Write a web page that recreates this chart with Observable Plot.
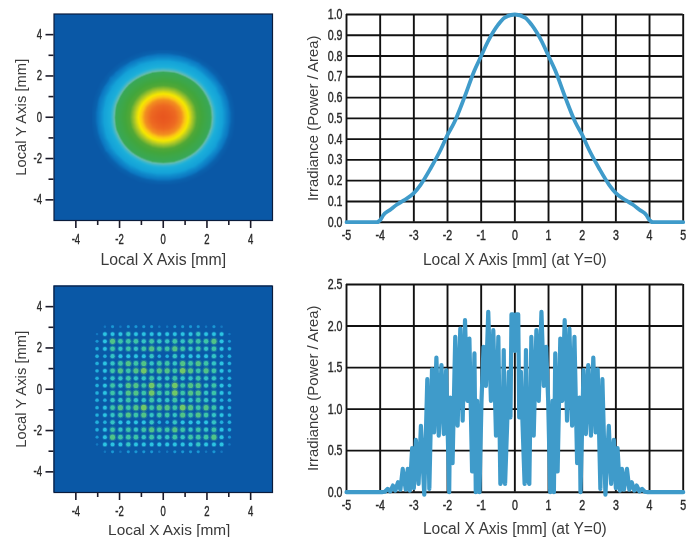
<!DOCTYPE html>
<html>
<head>
<meta charset="utf-8">
<script src="https://cdn.jsdelivr.net/npm/d3@7"></script>
<script src="https://cdn.jsdelivr.net/npm/@observablehq/plot@0.6"></script>
<style>
html,body{margin:0;padding:0;background:#fff;overflow:hidden}
#c{position:relative;width:688px;height:537px;overflow:hidden}
#c svg{position:absolute;overflow:visible;filter:blur(0.4px)}
</style>
</head>
<body>
<div id="c"></div>
<script>
// Top-right: irradiance profile, half from x=0 outwards (mirrored)
const profileX = [0,0.3,0.5,0.8,1,1.2,1.5,1.8,2,2.2,2.5,2.8,3,3.3,3.5,3.7,3.9,4,4.1,5];
const profileY = [1,0.985,0.95,0.87,0.8,0.73,0.6,0.48,0.42,0.35,0.26,0.18,0.14,0.105,0.085,0.06,0.035,0.01,0,0];

// Bottom-right: irradiance profile, half from x=0 outwards (mirrored)
const spikeX = [0,0.05,0.10,0.13,0.18,0.23,0.29,0.33,0.38,0.43,0.49,0.56,0.64,0.71,0.79,0.86,0.93,0.99,1.05,1.12,1.16,1.20,1.27,1.35,1.41,1.48,1.55,1.62,1.70,1.77,1.85,1.92,1.95,2.04,2.11,2.18,2.26,2.33,2.40,2.46,2.54,2.60,2.69,2.79,2.86,2.94,3.00,3.05,3.12,3.18,3.24,3.33,3.40,3.47,3.55,3.62,3.70,3.78,3.86,3.95,5];
const spikeY = [1.7,2.14,2.14,0.9,1.45,0.8,0.1,1.71,0.15,0.1,1.87,0.68,1.95,1.1,2.17,1.28,1.75,1.1,0,1.1,0,1.67,0.25,1.85,1.1,2.07,0.86,1.97,0.8,1.87,0.35,1.14,0,1.47,0.7,1.53,0.68,1.62,0.72,1.48,0.04,1.36,-0.03,0.8,0.1,0.63,0.05,0.53,0.02,0.28,0.03,0.28,0.03,0.12,0.02,0.08,0.01,0.04,0.005,0,0];

// Top-left: irradiance in % on a 0.25 mm lattice, one quadrant (row = |y|, column = |x|), mirrored
const beamQuadrant = [
 [100,98.5,95,88,80,71,60,50,42,33.5,26,19,14,11],
 [98.5,97,93.4,87,79,70,59,49,41,33,26,19,14,11],
 [95,93.4,89.5,83.5,76,67,57,47,40,32,25,18,13.5,10.5],
 [88,87,83.5,78,71,62,53,45,37,30,23,17,13,10],
 [80,79,76,71,64,56,48,41,34,27,21,15.5,12,9.5],
 [71,70,67,62,56,49,43.5,37,30,24,18,14,11,9],
 [60,59,57,53,48,43.5,38,32,26,20.5,16,12.5,10,8],
 [50,49,47,45,41,37,32,27,22,17,13.5,11,9,6],
 [42,41,40,37,34,30,26,22,17,14,12,9.5,7.5,5],
 [33.5,33,32,30,27,24,20.5,17,14,12,10,8,5,3],
 [26,26,25,23,21,18,16,13.5,12,10,8,6,3,2],
 [19,19,18,17,15.5,14,12.5,11,9.5,8,6,4,2,0],
 [14,14,13.5,13,12,11,10,9,7.5,5,3,2,0,0],
 [11,11,10.5,10,9.5,9,8,6,5,3,2,0,0,0]
];
const beamLevels = [0,10,12.5,14,20,28,31,33.5,36,50,58,68,75,80,85,92,100];
const beamColors = ["#0a58a6","#0a58a6","#0a62ae","#0c78c2","#14a2d8","#1cb0da","#3cb6cc","#66bcae","#38a858","#42a63c","#52a836","#b0c828","#f6e800","#fcc814","#f39020","#ee6c22","#e8561f"];

// Bottom-left: spot brightness 0–9 on the spot lattice, one quadrant from outer to centre, mirrored
const spotPitch = [3.03,2.67,2.32,1.96,1.60,1.25,0.89,0.53,0.18];
const spotRows = [
 "012122221",
 "144454444",
 "247666565",
 "346565676",
 "335444453",
 "345676756",
 "346767867",
 "335565565",
 "346577686"
];
const spotLevels = [0,1,2,3,4,6,7,8,9];
const spotColors = ["#0a58a6","#1478c0","#1a98d4","#22b0dc","#2cc4e2","#3cc4a8","#50c488","#70c868","#98d048"];

const xMajor = [-4,-2,0,2,4];
const xMinor = [-3,-1,1,3];
const xLineTicks = [-5,-4,-3,-2,-1,0,1,2,3,4,5];
const yTicksTop = [0,0.1,0.2,0.3,0.4,0.5,0.6,0.7,0.8,0.9,1];
const yTicksBottom = [0,0.5,1,1.5,2,2.5];
const xLabelMap = "Local X Axis [mm]";
const yLabelMap = "Local Y Axis [mm]";
const xLabelLine = "Local X Axis [mm] (at Y=0)";
const yLabelLine = "Irradiance (Power / Area)";

const sans = "'Liberation Sans',Arial,sans-serif";
const ink = "#2a2a2a";

function place(svg, left, top, xSize, ySize, squeeze, xShift) {
  svg.style.left = left + "px";
  svg.style.top = top + "px";
  document.getElementById("c").appendChild(svg);
  const s = d3.select(svg);
  s.selectAll('[aria-label="x-axis label"] text').attr("font-size", xSize).attr("fill", "#3a3a3a").attr("dx", xShift);
  s.selectAll('[aria-label="y-axis label"] text').attr("font-size", ySize).attr("fill", "#3a3a3a");
  s.selectAll('[aria-label="x-axis tick label"] text,[aria-label="y-axis tick label"] text').each(function () {
    const t = d3.select(this).attr("font-size", 14).attr("fill", ink).attr("stroke", ink).attr("stroke-width", 0.4);
    const w = this.getComputedTextLength();
    if (w > 0) t.attr("textLength", w * squeeze).attr("lengthAdjust", "spacingAndGlyphs");
  });
}

function mapAxes(extra, labelOffset) {
  return [
    ...extra,
    Plot.frame({stroke: "#0a1c3c", strokeWidth: 1.2}),
    Plot.axisX(xMajor, {tickSize: 8, tickPadding: 6, strokeWidth: 1.6, stroke: "#1a1a2a", tickFormat: String, label: xLabelMap, labelAnchor: "center", labelArrow: "none", labelOffset, fill: ink}),
    Plot.axisX(xMinor, {tickSize: 5, strokeWidth: 1.6, stroke: "#1a1a2a", tickFormat: () => "", label: null}),
    Plot.axisY(xMajor, {tickSize: 8, tickPadding: 4, strokeWidth: 1.6, stroke: "#1a1a2a", tickFormat: String, label: yLabelMap, labelAnchor: "center", labelArrow: "none", labelOffset: 39, fill: ink}),
    Plot.axisY(xMinor, {tickSize: 5, strokeWidth: 1.6, stroke: "#1a1a2a", tickFormat: () => "", label: null})
  ];
}

function mapPlot(height, marginTop, levels, colors, labelOffset, marks) {
  return Plot.plot({
    width: 300, height, marginLeft: 53.5, marginRight: 28, marginTop, marginBottom: height - marginTop - 206.5,
    style: {fontFamily: sans, background: "transparent"},
    x: {domain: [-5, 5]}, y: {domain: [-5, 5]},
    color: {type: "linear", domain: levels, range: colors},
    r: {type: "linear", domain: [0, 9], range: [1, 3]},
    marks: mapAxes(marks, labelOffset)
  });
}

function linePlot(yDomain, yTicks, fmt, pts, sw, join, curve, labelOffset) {
  return Plot.plot({
    width: 388, height: 265, marginLeft: 46, marginRight: 5.3, marginTop: 14, marginBottom: 265 - 14 - 207.7,
    style: {fontFamily: sans, background: "transparent"},
    x: {domain: [-5, 5]}, y: {domain: yDomain},
    marks: [
      Plot.ruleX(xLineTicks, {stroke: "#111", strokeWidth: 1.9}),
      Plot.ruleY(yTicks, {stroke: "#111", strokeWidth: 1.9}),
      Plot.lineY(pts, {x: "x", y: "y", stroke: "#3f9bca", strokeWidth: sw, strokeLinejoin: join, curve}),
      Plot.axisX(xLineTicks, {tickSize: 0, tickPadding: 8, tickFormat: String, label: xLabelLine, labelAnchor: "center", labelArrow: "none", labelOffset, fill: ink}),
      Plot.axisY(yTicks, {tickSize: 0, tickPadding: 4, tickFormat: fmt, label: yLabelLine, labelAnchor: "center", labelArrow: "none", labelOffset: 39, fill: ink})
    ]
  });
}

function mirror(xs, ys) {
  const right = xs.map((x, i) => ({x, y: ys[i]}));
  const left = right.slice(1).reverse().map(d => ({x: -d.x, y: d.y}));
  return left.concat(right);
}

// beam cells
const n = beamQuadrant.length - 1;
const beamCells = [];
for (let j = -20; j <= 20; j++) for (let i = -20; i <= 20; i++) {
  const a = Math.abs(i), b = Math.abs(j);
  beamCells.push({x: i / 4, y: j / 4, v: a <= n && b <= n ? beamQuadrant[b][a] : 0});
}
// spot cells
const spots = [];
const signed = spotPitch.map(d => -d).concat(spotPitch.slice().reverse());
signed.forEach((y, r) => signed.forEach((x, c) => {
  const rr = r < 9 ? r : 17 - r, cc = c < 9 ? c : 17 - c;
  const v = +spotRows[rr][cc];
  if (v > 0) spots.push({x, y, v});
}));

place(mapPlot(265, 13.5, beamLevels, beamColors, 44, [
  Plot.raster(beamCells, {x: "x", y: "y", fill: "v", interpolate: "barycentric", pixelSize: 1, x1: -5, x2: 5, y1: -5, y2: 5, imageRendering: "auto"})
]), 0, 0, 15.8, 14.8, 0.68, 0);

place(mapPlot(267, 15.5, spotLevels, spotColors, 42, [
  Plot.rect([{}], {x1: () => -5, x2: () => 5, y1: () => -5, y2: () => 5, fill: () => 0}),
  Plot.dot(spots, {x: "x", y: "y", r: d => d.v * 1.8, fill: "v", fillOpacity: 0.3}),
  Plot.dot(spots, {x: "x", y: "y", r: "v", fill: "v"})
]), 0, 270, 15.4, 14.8, 0.68, 6);

place(linePlot([0, 1], yTicksTop, d3.format(".1f"), mirror(profileX, profileY), 3.8, "round", "monotone-x", 43), 300, 0, 15.6, 14.9, 0.76, 0);
place(linePlot([0, 2.5], yTicksBottom, d3.format(".1f"), mirror(spikeX, spikeY), 4.2, "round", "linear", 42), 300, 270, 15.6, 14.9, 0.76, 0);
</script>
</body>
</html>
